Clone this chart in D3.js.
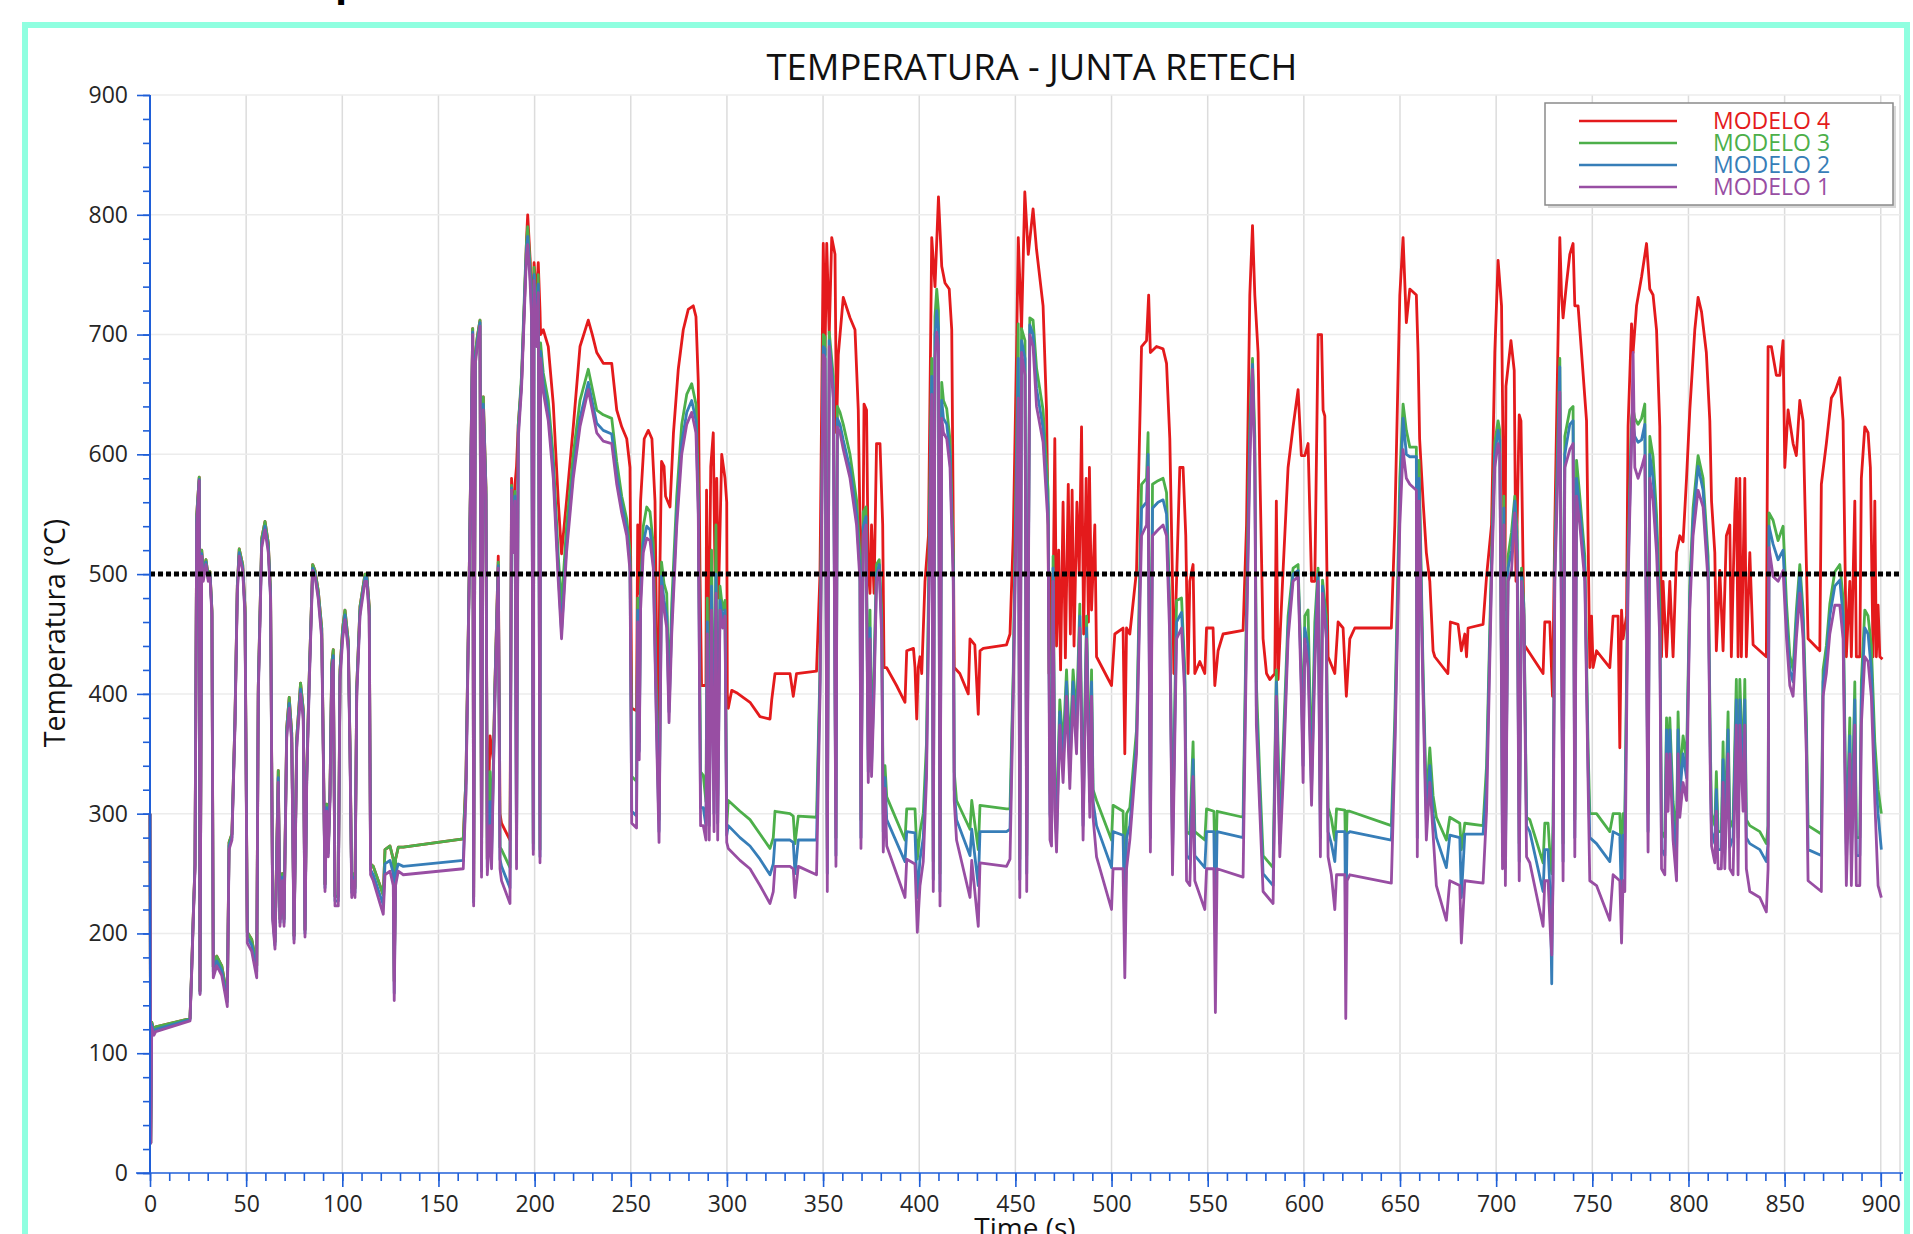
<!DOCTYPE html>
<html><head><meta charset="utf-8">
<script src="https://cdn.jsdelivr.net/npm/d3@7/dist/d3.min.js"></script>
<style>
html,body{margin:0;padding:0;background:#fff;overflow:hidden}
svg{display:block;font-family:"Open Sans","Noto Sans",sans-serif}
</style></head><body>
<svg id="chart" width="1913" height="1234"></svg>
<script>
const chartTitle = "TEMPERATURA - JUNTA RETECH";
const xTitle = "Time (s)";
const yTitle = "Temperatura (°C)";
const topFragment = "p";
const xTickLabels = [0,50,100,150,200,250,300,350,400,450,500,550,600,650,700,750,800,850,900];
const yTickLabels = [0,100,200,300,400,500,600,700,800,900];
const threshold = 500;
const seriesNames = ["MODELO 4","MODELO 3","MODELO 2","MODELO 1"];
const seriesColors = ["#e41a1c","#4daf4a","#377eb8","#984ea3"];

const modelo1 = [[0,300],[0.4,25],[0.9,122],[2,115],[3,118],[20.8,127],[21.7,168],[22.5,211],[23.4,254],[24.3,541],[25.6,578],[26,149],[26.9,515],[27.7,494],[29.1,508],[30.3,494],[31.2,498],[32.2,465],[32.9,163],[34.7,173],[37.3,165],[40.2,139],[41.1,270],[42.6,278],[44.2,374],[45.4,484],[46.4,515],[48.2,503],[49.4,465],[50.6,192],[52.9,185],[55.5,163],[56.3,398],[58.1,522],[59.8,537],[61.5,518],[62.7,479],[63.8,211],[65,187],[66.7,326],[67.6,206],[68.8,244],[69.7,206],[71.1,364],[72.4,388],[73.7,359],[74.9,192],[76.3,355],[78.3,400],[79.7,379],[80.6,197],[81.5,326],[82.8,407],[84.6,503],[85.8,498],[87.5,479],[89.3,446],[90.1,350],[91,235],[91.9,302],[92.7,264],[93.6,311],[94.5,417],[95.3,428],[96.2,223],[97.9,223],[98.8,412],[100.2,446],[101.4,462],[103.1,436],[104,350],[104.9,230],[106.1,244],[106.6,230],[107.5,398],[109.2,465],[111.8,494],[112.7,494],[114,465],[114.7,249],[116.1,244],[119.6,225],[121.3,216],[122.2,249],[124.8,252],[126.5,240],[127,144],[127.7,240],[129.1,252],[131.7,249],[162.9,254],[164.3,316],[166,494],[167.8,700],[168.3,223],[169.2,676],[170.2,690],[171.6,707],[172.4,247],[173.3,637],[174.7,561],[175.4,249],[176.8,290],[177.6,254],[179.4,398],[181.1,505],[182,254],[182.8,244],[187.2,225],[188,570],[188.9,518],[189.8,561],[190.6,254],[191.5,613],[193.2,655],[195,733],[195.8,767],[196.4,775],[197.6,745],[198.4,715],[199.3,266],[199.7,745],[201,690],[201.9,735],[202.8,259],[203.1,680],[204.5,652],[207.1,628],[209.7,580],[212.3,494],[214,446],[216.6,518],[220.1,580],[223.6,623],[227.9,654],[232.3,618],[235.7,611],[240.1,609],[242.7,575],[245.3,551],[247.9,532],[249.6,503],[250.5,292],[253,288],[253.6,460],[254.4,345],[255.1,470],[256.5,518],[258.3,530],[260,528],[261.7,505],[263.5,360],[264.7,276],[266,490],[267.3,470],[268.7,455],[269.9,376],[271.3,450],[273.9,540],[276.5,600],[279.1,625],[281.7,635],[283.9,618],[285.1,550],[286.3,290],[287.7,290],[289.1,278],[289.8,450],[290.8,278],[292,470],[293.3,285],[294.3,484],[295.2,278],[296.4,470],[297.8,455],[299,465],[299.9,276],[300.7,271],[306.8,261],[312,254],[317.2,240],[322.4,225],[324.1,235],[325,256],[332.8,256],[334.5,254],[335.4,230],[337.1,256],[346.6,249],[348.4,398],[350.1,683],[351,680],[352.2,235],[353.2,690],[355.3,647],[356.7,256],[357.4,623],[358.8,618],[360.5,604],[364,580],[367.4,541],[369.2,494],[369.7,271],[370.9,532],[372.3,541],[373.5,326],[374.4,446],[375.2,331],[376.5,398],[377.8,494],[379.2,503],[380.5,446],[381.3,268],[382.2,321],[383.1,273],[392.6,230],[393.5,262],[397.8,258],[399,201],[400.4,240],[402.1,260],[403.8,330],[405.6,541],[406.5,650],[407.3,235],[408.2,680],[409.1,702],[410,690],[410.8,223],[411.7,630],[412.6,618],[414.3,613],[416,589],[417.7,494],[418.2,311],[419.4,278],[426.4,230],[427.3,261],[430.7,206],[431.6,259],[445.4,256],[447.2,262],[448.9,398],[451.5,647],[452.3,230],[453.2,685],[455,666],[455.9,235],[457.5,700],[459.2,690],[461,640],[464.4,610],[467,541],[468,278],[468.8,273],[469.6,494],[470.5,302],[471.4,268],[473.1,374],[474.8,326],[476.6,398],[478.3,321],[480,398],[481.8,350],[483.5,455],[485.2,278],[487,446],[488.7,297],[489.6,398],[490.4,297],[492.2,264],[500,220],[500.8,254],[506,254],[506.9,163],[507.8,254],[509.5,278],[513,350],[515.6,532],[518.2,541],[519,589],[520.2,268],[521.3,532],[524.2,537],[526.8,541],[528.6,532],[530.3,446],[531.7,249],[533.8,446],[536.4,455],[538.1,398],[539,244],[540.7,240],[542.4,331],[543.3,244],[548.5,220],[549.4,254],[553.2,254],[554,134],[554.9,254],[568.4,247],[570.2,446],[571.9,589],[573.3,671],[574.5,589],[575.3,374],[577.1,302],[578.8,235],[581.4,230],[584,225],[585.7,398],[587.5,264],[589.2,326],[591.8,446],[594.4,494],[597,498],[598.7,398],[599.6,326],[600.5,446],[602.2,422],[604,307],[605.7,422],[607.4,494],[608.6,264],[609.7,484],[611.7,446],[612.6,264],[614.3,249],[616.1,220],[617,249],[621.3,249],[621.8,129],[622.5,244],[623.9,249],[645.5,242],[647.3,350],[649.9,541],[651.6,604],[653.3,580],[655.1,575],[658.5,570],[659,264],[659.9,561],[662,398],[663.7,278],[665.5,326],[667.2,283],[668.9,240],[674.1,211],[675.9,244],[681.1,240],[681.9,192],[683.7,244],[693.2,242],[695,302],[697.6,494],[699.3,589],[701,609],[701.9,600],[702.8,398],[703.3,254],[704,541],[704.8,240],[706.2,494],[708,503],[709.7,551],[710.9,513],[712,244],[713.2,494],[714.4,465],[715.8,264],[717.5,259],[724.4,206],[725.3,244],[727,244],[728.2,201],[728.9,182],[729.6,244],[730.5,494],[732.2,589],[733.1,652],[734.8,244],[735.7,589],[738.3,604],[740,609],[740.9,264],[741.8,565],[743.5,541],[746.1,494],[747.8,326],[748.7,244],[752.2,240],[759.1,211],[760.8,249],[764.3,244],[765.2,192],[766,244],[766.9,235],[768.6,494],[770.4,609],[771.2,685],[772.1,589],[773.8,580],[775.6,589],[777.3,599],[779,268],[779.9,580],[781.6,561],[783.4,518],[785.1,446],[786,254],[787.7,249],[788.6,350],[789.4,302],[790.3,350],[792,278],[793.8,244],[794.6,350],[795.5,297],[797.2,326],[799,311],[800.7,470],[802.4,532],[805,570],[807.6,556],[810.2,494],[811.4,326],[812,273],[813.7,259],[814.5,302],[815.4,254],[817.1,254],[818,326],[818.9,254],[820.6,350],[821.5,254],[823.2,249],[824.9,374],[825.8,249],[826.7,374],[828.4,302],[829.3,374],[830.1,254],[831.9,235],[837.1,230],[840.5,218],[841.4,254],[841.9,522],[844,498],[846.6,494],[849.2,503],[851,446],[852.7,407],[854.4,398],[856.1,446],[857.9,484],[859.6,446],[861.3,350],[862.2,244],[869.1,235],[870,398],[871.7,417],[873.5,450],[876.1,474],[878.7,474],[880.4,446],[882.1,240],[883.9,350],[884.7,240],[886.5,374],[887.3,240],[889.1,240],[889.9,374],[891.7,431],[893.4,427],[895.1,398],[896.9,311],[898.6,240],[900.3,230]];

const modelo2 = [[0,300],[0.4,25],[0.9,124],[2,117],[3,120],[20.8,128],[21.7,170],[22.5,213],[23.4,256],[24.3,545],[25.6,579],[26,150],[26.9,517],[27.7,497],[29.1,510],[30.3,496],[31.2,500],[32.2,468],[32.9,168],[34.7,177],[37.3,169],[40.2,143],[41.1,273],[42.6,280],[44.2,377],[45.4,487],[46.4,518],[48.2,505],[49.4,468],[50.6,197],[52.9,190],[55.5,168],[56.3,402],[58.1,526],[59.8,540],[61.5,522],[62.7,482],[63.8,214],[65,190],[66.7,330],[67.6,209],[68.8,247],[69.7,209],[71.1,368],[72.4,392],[73.7,363],[74.9,195],[76.3,359],[78.3,404],[79.7,383],[80.6,200],[81.5,330],[82.8,411],[84.6,505],[85.8,500],[87.5,482],[89.3,450],[90.1,354],[91,238],[91.9,305],[92.7,267],[93.6,315],[94.5,421],[95.3,432],[96.2,227],[97.9,227],[98.8,416],[100.2,450],[101.4,466],[103.1,440],[104,354],[104.9,234],[106.1,247],[106.6,234],[107.5,402],[109.2,469],[111.8,497],[112.7,497],[114,469],[114.7,253],[116.1,249],[119.6,232],[121.3,224],[122.2,258],[124.8,261],[126.5,250],[127,150],[127.7,250],[129.1,258],[131.7,256],[162.9,261],[164.3,322],[166,498],[167.8,702],[168.3,226],[169.2,680],[170.2,694],[171.6,710],[172.4,252],[173.3,642],[174.7,566],[175.4,255],[176.8,310],[177.6,262],[179.4,404],[181.1,507],[182,262],[182.8,256],[187.2,238],[188,572],[188.9,522],[189.8,565],[190.6,262],[191.5,618],[193.2,660],[195,740],[195.8,772],[196.4,782],[197.6,752],[198.4,722],[199.3,270],[199.7,750],[201,697],[201.9,742],[202.8,264],[203.1,686],[204.5,660],[207.1,635],[209.7,588],[212.3,503],[214,452],[216.6,525],[220.1,586],[223.6,630],[227.9,660],[232.3,626],[235.7,620],[240.1,617],[242.7,583],[245.3,558],[247.9,538],[249.6,510],[250.5,302],[253,298],[253.6,470],[254.4,352],[255.1,480],[256.5,526],[258.3,540],[260,537],[261.7,512],[263.5,370],[264.7,285],[266,498],[267.3,478],[268.7,465],[269.9,385],[271.3,460],[273.9,550],[276.5,610],[279.1,635],[281.7,645],[283.9,628],[285.1,560],[286.3,305],[287.7,305],[289.1,290],[289.8,460],[290.8,290],[292,490],[293.3,300],[294.3,500],[295.2,292],[296.4,478],[297.8,462],[299,470],[299.9,282],[300.7,290],[306.8,280],[312,273],[317.2,262],[322.4,249],[324.1,258],[325,278],[332.8,278],[334.5,276],[335.4,250],[337.1,278],[346.6,278],[348.4,410],[350.1,690],[351,688],[352.2,250],[353.2,695],[355.3,655],[356.7,265],[357.4,630],[358.8,625],[360.5,612],[364,588],[367.4,550],[369.2,502],[369.7,280],[370.9,540],[372.3,548],[373.5,335],[374.4,455],[375.2,340],[376.5,410],[377.8,500],[379.2,508],[380.5,455],[381.3,285],[382.2,330],[383.1,295],[392.6,260],[393.5,285],[397.8,284],[399,230],[400.4,262],[402.1,280],[403.8,345],[405.6,560],[406.5,665],[407.3,245],[408.2,700],[409.1,720],[410,705],[410.8,235],[411.7,645],[412.6,630],[414.3,625],[416,600],[417.7,505],[418.2,320],[419.4,295],[426.4,265],[427.3,287],[430.7,240],[431.6,285],[445.4,285],[447.2,287],[448.9,410],[451.5,680],[452.3,245],[453.2,695],[455,680],[455.9,250],[457.5,708],[459.2,700],[461,655],[464.4,622],[467,555],[468,300],[468.8,285],[469.6,505],[470.5,315],[471.4,280],[473.1,385],[474.8,340],[476.6,410],[478.3,335],[480,410],[481.8,365],[483.5,465],[485.2,290],[487,455],[488.7,310],[489.6,410],[490.4,310],[492.2,290],[500,255],[500.8,285],[506,282],[506.9,200],[507.8,280],[509.5,290],[513,360],[515.6,555],[518.2,560],[519,600],[520.2,280],[521.3,555],[524.2,560],[526.8,562],[528.6,550],[530.3,460],[531.7,265],[533.8,460],[536.4,468],[538.1,410],[539,265],[540.7,262],[542.4,345],[543.3,265],[548.5,255],[549.4,285],[553.2,285],[554,200],[554.9,285],[568.4,280],[570.2,460],[571.9,610],[573.3,675],[574.5,600],[575.3,390],[577.1,315],[578.8,250],[581.4,245],[584,240],[585.7,410],[587.5,275],[589.2,340],[591.8,455],[594.4,500],[597,503],[598.7,410],[599.6,340],[600.5,455],[602.2,440],[604,320],[605.7,440],[607.4,500],[608.6,280],[609.7,490],[611.7,455],[612.6,285],[614.3,275],[616.1,260],[617,285],[621.3,285],[621.8,200],[622.5,283],[623.9,285],[645.5,278],[647.3,365],[649.9,560],[651.6,630],[653.3,600],[655.1,598],[658.5,598],[659,280],[659.9,580],[662,410],[663.7,295],[665.5,340],[667.2,300],[668.9,280],[674.1,255],[675.9,282],[681.1,280],[681.9,230],[683.7,283],[693.2,283],[695,325],[697.6,505],[699.3,600],[701,620],[701.9,612],[702.8,410],[703.3,265],[704,555],[704.8,255],[706.2,505],[708,520],[709.7,561],[710.9,525],[712,260],[713.2,500],[714.4,470],[715.8,290],[717.5,285],[724.4,235],[725.3,270],[727,270],[728.2,230],[728.9,158],[729.6,270],[730.5,505],[732.2,610],[733.1,673],[734.8,260],[735.7,600],[738.3,625],[740,628],[740.9,280],[741.8,580],[743.5,555],[746.1,505],[747.8,340],[748.7,280],[752.2,275],[759.1,260],[760.8,285],[764.3,282],[765.2,225],[766,282],[766.9,278],[768.6,505],[770.4,620],[771.2,625],[772.1,615],[773.8,610],[775.6,612],[777.3,625],[779,285],[779.9,600],[781.6,580],[783.4,535],[785.1,460],[786,270],[787.7,265],[788.6,370],[789.4,320],[790.3,370],[792,295],[793.8,265],[794.6,370],[795.5,315],[797.2,350],[799,330],[800.7,480],[802.4,545],[805,590],[807.6,570],[810.2,505],[811.4,340],[812,285],[813.7,275],[814.5,320],[815.4,270],[817.1,270],[818,345],[818.9,270],[820.6,370],[821.5,272],[823.2,280],[824.9,395],[825.8,280],[826.7,395],[828.4,320],[829.3,395],[830.1,280],[831.9,275],[837.1,270],[840.5,260],[841.4,275],[841.9,540],[844,525],[846.6,512],[849.2,520],[851,460],[852.7,420],[854.4,410],[856.1,460],[857.9,500],[859.6,460],[861.3,365],[862.2,270],[869.1,265],[870,410],[871.7,430],[873.5,465],[876.1,490],[878.7,495],[880.4,465],[882.1,265],[883.9,365],[884.7,265],[886.5,395],[887.3,265],[889.1,265],[889.9,395],[891.7,455],[893.4,450],[895.1,420],[896.9,340],[898.6,300],[900.3,270]];

const modelo3 = [[0,300],[0.4,25],[0.9,126],[2,119],[3,122],[20.8,129],[21.7,172],[22.5,215],[23.4,258],[24.3,550],[25.6,581],[26,152],[26.9,520],[27.7,500],[29.1,512],[30.3,498],[31.2,502],[32.2,470],[32.9,172],[34.7,181],[37.3,173],[40.2,147],[41.1,276],[42.6,283],[44.2,380],[45.4,490],[46.4,521],[48.2,508],[49.4,472],[50.6,201],[52.9,195],[55.5,173],[56.3,406],[58.1,530],[59.8,544],[61.5,526],[62.7,486],[63.8,217],[65,193],[66.7,336],[67.6,212],[68.8,250],[69.7,212],[71.1,372],[72.4,397],[73.7,367],[74.9,198],[76.3,363],[78.3,409],[79.7,387],[80.6,203],[81.5,334],[82.8,415],[84.6,508],[85.8,503],[87.5,486],[89.3,455],[90.1,358],[91,241],[91.9,308],[92.7,270],[93.6,319],[94.5,425],[95.3,437],[96.2,231],[97.9,231],[98.8,420],[100.2,455],[101.4,470],[103.1,444],[104,358],[104.9,238],[106.1,250],[106.6,238],[107.5,406],[109.2,473],[111.8,500],[112.7,500],[114,473],[114.7,258],[116.1,256],[119.6,240],[121.3,232],[122.2,270],[124.8,273],[126.5,262],[127,160],[127.7,262],[129.1,272],[131.7,272],[162.9,279],[164.3,330],[166,502],[167.8,705],[168.3,230],[169.2,684],[170.2,698],[171.6,712],[172.4,258],[173.3,648],[174.7,572],[175.4,262],[176.8,335],[177.6,272],[179.4,410],[181.1,510],[182,272],[182.8,270],[187.2,255],[188,574],[188.9,526],[189.8,569],[190.6,272],[191.5,624],[193.2,666],[195,747],[195.8,778],[196.4,790],[197.6,760],[198.4,730],[199.3,275],[199.7,756],[201,705],[201.9,750],[202.8,270],[203.1,693],[204.5,668],[207.1,645],[209.7,598],[212.3,515],[214,474],[216.6,540],[220.1,600],[223.6,645],[227.9,671],[232.3,637],[235.7,633],[240.1,630],[242.7,594],[245.3,565],[247.9,546],[249.6,520],[250.5,331],[253,327],[253.6,480],[254.4,360],[255.1,490],[256.5,540],[258.3,556],[260,552],[261.7,525],[263.5,385],[264.7,295],[266,510],[267.3,492],[268.7,484],[269.9,400],[271.3,475],[273.9,565],[276.5,625],[279.1,650],[281.7,659],[283.9,642],[285.1,575],[286.3,335],[287.7,332],[289.1,310],[289.8,480],[290.8,312],[292,520],[293.3,320],[294.3,541],[295.2,315],[296.4,490],[297.8,470],[299,478],[299.9,290],[300.7,311],[306.8,302],[312,295],[317.2,283],[322.4,271],[324.1,280],[325,302],[332.8,300],[334.5,298],[335.4,275],[337.1,298],[346.6,297],[348.4,420],[350.1,700],[351,698],[352.2,270],[353.2,702],[355.3,665],[356.7,280],[357.4,640],[358.8,635],[360.5,625],[364,600],[367.4,562],[369.2,515],[369.7,295],[370.9,552],[372.3,556],[373.5,345],[374.4,470],[375.2,352],[376.5,425],[377.8,508],[379.2,512],[380.5,465],[381.3,300],[382.2,340],[383.1,314],[392.6,278],[393.5,304],[397.8,304],[399,262],[400.4,285],[402.1,300],[403.8,360],[405.6,580],[406.5,680],[407.3,260],[408.2,715],[409.1,738],[410,720],[410.8,250],[411.7,660],[412.6,645],[414.3,638],[416,612],[417.7,515],[418.2,335],[419.4,311],[426.4,287],[427.3,311],[430.7,270],[431.6,307],[445.4,304],[447.2,304],[448.9,420],[451.5,709],[452.3,262],[453.2,705],[455,695],[455.9,265],[457.5,714],[459.2,712],[461,672],[464.4,637],[467,570],[468,320],[468.8,300],[469.6,515],[470.5,330],[471.4,295],[473.1,395],[474.8,355],[476.6,420],[478.3,350],[480,420],[481.8,380],[483.5,475],[485.2,305],[487,465],[488.7,325],[489.6,420],[490.4,320],[492.2,311],[500,278],[500.8,307],[506,302],[506.9,240],[507.8,300],[509.5,305],[513,370],[515.6,575],[518.2,580],[519,618],[520.2,295],[521.3,575],[524.2,578],[526.8,580],[528.6,568],[530.3,470],[531.7,280],[533.8,478],[536.4,480],[538.1,420],[539,285],[540.7,283],[542.4,360],[543.3,285],[548.5,278],[549.4,304],[553.2,302],[554,250],[554.9,302],[568.4,297],[570.2,475],[571.9,625],[573.3,680],[574.5,615],[575.3,410],[577.1,330],[578.8,265],[581.4,260],[584,255],[585.7,420],[587.5,290],[589.2,355],[591.8,465],[594.4,505],[597,508],[598.7,420],[599.6,355],[600.5,465],[602.2,470],[604,335],[605.7,460],[607.4,505],[608.6,300],[609.7,495],[611.7,465],[612.6,305],[614.3,296],[616.1,278],[617,304],[621.3,303],[621.8,260],[622.5,302],[623.9,302],[645.5,290],[647.3,380],[649.9,580],[651.6,642],[653.3,620],[655.1,606],[658.5,606],[659,300],[659.9,595],[662,420],[663.7,310],[665.5,355],[667.2,315],[668.9,297],[674.1,278],[675.9,297],[681.1,292],[681.9,270],[683.7,292],[693.2,290],[695,340],[697.6,515],[699.3,610],[701,628],[701.9,620],[702.8,420],[703.3,280],[704,565],[704.8,270],[706.2,515],[708,535],[709.7,565],[710.9,535],[712,275],[713.2,505],[714.4,475],[715.8,297],[717.5,295],[724.4,259],[725.3,292],[727,292],[728.2,260],[728.9,250],[729.6,292],[730.5,515],[732.2,625],[733.1,680],[734.8,275],[735.7,615],[738.3,637],[740,640],[740.9,295],[741.8,595],[743.5,565],[746.1,515],[747.8,355],[748.7,300],[752.2,300],[759.1,285],[760.8,300],[764.3,300],[765.2,260],[766,300],[766.9,297],[768.6,515],[770.4,630],[771.2,638],[772.1,630],[773.8,625],[775.6,630],[777.3,642],[779,300],[779.9,615],[781.6,598],[783.4,550],[785.1,475],[786,285],[787.7,280],[788.6,380],[789.4,335],[790.3,380],[792,310],[793.8,280],[794.6,385],[795.5,330],[797.2,365],[799,345],[800.7,490],[802.4,555],[805,599],[807.6,580],[810.2,515],[811.4,355],[812,300],[813.7,290],[814.5,335],[815.4,285],[817.1,285],[818,360],[818.9,285],[820.6,385],[821.5,288],[823.2,295],[824.9,412],[825.8,295],[826.7,412],[828.4,335],[829.3,412],[830.1,295],[831.9,290],[837.1,285],[840.5,275],[841.4,290],[841.9,551],[844,545],[846.6,528],[849.2,540],[851,475],[852.7,432],[854.4,420],[856.1,470],[857.9,508],[859.6,470],[861.3,380],[862.2,290],[869.1,283],[870,420],[871.7,440],[873.5,475],[876.1,502],[878.7,508],[880.4,480],[882.1,275],[883.9,380],[884.7,275],[886.5,410],[887.3,280],[889.1,280],[889.9,410],[891.7,470],[893.4,465],[895.1,440],[896.9,360],[898.6,320],[900.3,300]];

const modelo4 = [[0,300],[0.4,25],[0.9,126],[2,119],[3,122],[20.8,129],[21.7,172],[22.5,215],[23.4,258],[24.3,550],[25.6,581],[26,152],[26.9,520],[27.7,500],[29.1,512],[30.3,498],[31.2,502],[32.2,470],[32.9,172],[34.7,181],[37.3,173],[40.2,147],[41.1,276],[42.6,283],[44.2,380],[45.4,490],[46.4,521],[48.2,508],[49.4,472],[50.6,201],[52.9,195],[55.5,173],[56.3,406],[58.1,530],[59.8,544],[61.5,526],[62.7,486],[63.8,217],[65,193],[66.7,336],[67.6,212],[68.8,250],[69.7,212],[71.1,372],[72.4,397],[73.7,367],[74.9,198],[76.3,363],[78.3,409],[79.7,387],[80.6,203],[81.5,334],[82.8,415],[84.6,508],[85.8,503],[87.5,486],[89.3,455],[90.1,358],[91,241],[91.9,308],[92.7,270],[93.6,319],[94.5,425],[95.3,437],[96.2,231],[97.9,231],[98.8,420],[100.2,455],[101.4,470],[103.1,444],[104,358],[104.9,238],[106.1,250],[106.6,238],[107.5,406],[109.2,473],[111.8,500],[112.7,500],[114,473],[114.7,258],[116.1,256],[119.6,240],[121.3,232],[122.2,270],[124.8,273],[126.5,262],[127,160],[127.7,262],[129.1,272],[131.7,272],[162.9,279],[164.3,330],[166,502],[167.8,705],[168.3,230],[169.2,684],[170.2,698],[171.6,712],[172.4,258],[173.3,648],[174.7,572],[175.4,262],[176.8,365],[178.5,345],[179.4,410],[181.1,515],[182,300],[182.8,292],[187.2,278],[188,580],[188.9,530],[189.8,575],[190.6,590],[191.5,625],[193.2,660],[195,740],[195.8,780],[196.4,800],[197.6,765],[198.4,735],[199.3,730],[199.7,760],[201,730],[201.9,760],[202.8,720],[203.1,700],[204.5,704],[207.1,690],[209.7,642],[212.3,561],[214,517],[216.6,561],[220.1,623],[223.6,690],[227.9,712],[230,700],[232.3,685],[235.7,676],[240.1,676],[242.7,637],[245.3,623],[247.9,613],[249.6,589],[250.5,388],[253,386],[253.6,541],[254.4,484],[255.1,561],[257,613],[259.1,620],[261,613],[262.6,561],[263.5,436],[264.3,369],[265.1,500],[266,594],[267.3,590],[268.1,565],[270.4,556],[272.2,618],[274.7,671],[277.3,704],[279.9,721],[282.5,724],[283.9,715],[285.1,661],[286,500],[286.8,407],[289.1,407],[289.4,570],[290.3,407],[291.6,590],[292.9,618],[293.8,500],[294.7,580],[295.6,480],[297.3,600],[299,580],[299.9,560],[300.2,400],[300.7,388],[302.5,403],[305,401],[312,393],[317.2,381],[322.4,379],[323.3,395],[325,417],[332.8,417],[334.5,398],[336.2,417],[346.6,419],[348.4,500],[350.1,776],[351,683],[351.9,776],[353.2,700],[354.5,781],[356.2,767],[357,618],[357.9,683],[360.5,731],[364,714],[366.6,704],[368.3,637],[369.2,541],[370.6,494],[371.3,642],[372.6,637],[373.5,503],[374.4,484],[375.2,541],[376.5,484],[377.8,609],[379.6,609],[381,541],[381.7,422],[383,422],[388.2,407],[392.6,393],[393.5,436],[397,438],[397.8,422],[398.7,379],[399.5,422],[400.4,431],[401.3,417],[403,494],[404.8,532],[406.5,781],[408.2,740],[410,815],[411.7,757],[413.4,743],[415.6,738],[416.9,704],[417.7,541],[418.2,422],[421.1,417],[425.5,400],[426.4,446],[428.9,441],[430.7,383],[431.6,436],[433.3,438],[445.4,441],[447.2,450],[448.9,532],[450.6,685],[451.5,781],[453.2,704],[454.9,819],[456.7,767],[459.2,805],[461,771],[464.4,724],[466.2,637],[467,541],[467.5,417],[468.5,500],[469.3,430],[470.5,613],[471.4,440],[472.5,520],[473.5,420],[474.8,560],[476,430],[477.5,575],[478.6,450],[479.5,570],[480.5,440],[482,560],[483.2,500],[484.4,623],[485.5,450],[486.8,580],[488,460],[488.5,589],[489.6,470],[491.3,541],[492.2,431],[500,407],[501.7,450],[506,455],[506.9,350],[507.8,455],[509.5,450],[513,503],[515.6,690],[518.2,695],[519.3,733],[520.2,685],[523.4,690],[526.8,688],[528.6,676],[530.3,613],[531.7,494],[532.4,417],[533.8,494],[535.5,589],[537.2,589],[538.6,532],[539.8,417],[540.7,494],[542.4,508],[543.3,417],[545.9,427],[548.5,417],[549.4,455],[552.8,455],[553.7,407],[555.4,436],[558,450],[568.4,453],[570.2,541],[571.9,733],[573.3,791],[574.5,733],[576.2,685],[577.1,589],[578.8,446],[580.6,417],[582.3,412],[584.9,417],[585.7,561],[586.6,412],[589.2,503],[591.8,589],[594.4,623],[597,654],[598.7,599],[600.5,599],[602.2,609],[604,494],[605.7,494],[607.4,700],[609.2,700],[610,637],[610.9,632],[612.6,431],[616.1,417],[617.8,460],[620.4,455],[622.1,398],[623.9,446],[626.5,455],[645.5,455],[647.3,541],[649.9,733],[651.6,781],[653.3,710],[655.1,738],[658.5,733],[659.4,685],[660.2,613],[662,561],[663.7,518],[665.5,494],[667.2,436],[668.1,431],[674.9,417],[676.2,460],[680.2,458],[681.9,436],[683.7,450],[684.6,431],[685.4,455],[693.2,458],[695,498],[697.6,541],[699.3,685],[701,762],[702.8,724],[703.6,600],[704.5,470],[705.1,657],[707.7,695],[709.4,670],[710.3,494],[712,633],[712.9,628],[714.6,441],[724.4,417],[725.3,460],[727.9,460],[729.3,398],[730.5,541],[733.1,781],[734,733],[734.8,714],[736.6,743],[738.3,767],[740,776],[740.9,724],[742.6,724],[744.4,685],[747,628],[748.7,422],[749.6,465],[750.4,422],[752.2,436],[759.1,422],[760.8,465],[763.4,465],[764.3,355],[765.2,470],[766,446],[767.8,465],[768.6,623],[770.4,709],[771.2,685],[773,724],[775.6,748],[778.2,776],[779.9,738],[781.6,733],[783.4,704],[785.1,623],[786,431],[786.8,494],[788.6,431],[790.3,494],[792,431],[793.8,518],[795.5,532],[797.2,527],[799,580],[800.7,637],[803.3,704],[805,731],[806.8,719],[809.3,685],[811.1,628],[812,561],[813.7,518],[814.5,436],[816.3,503],[818,436],[819.7,532],[821.5,541],[822.3,431],[824.1,551],[824.9,580],[825.8,431],[826.7,580],[827.5,431],[829.3,580],[830.1,431],[831.9,518],[833.6,441],[840.5,431],[841.4,690],[843.1,690],[845.7,666],[847.5,666],[849.2,695],[850.1,589],[851.8,637],[854.4,609],[856.1,599],[857.9,645],[859.6,628],[862.2,446],[868.3,436],[869.1,575],[871.7,609],[874.3,647],[876.1,652],[878.7,664],[880.4,628],[882.1,431],[883.9,494],[884.7,431],[886.5,561],[887.3,431],[889.1,431],[889.9,580],[891.7,623],[893.4,618],[894.6,589],[896,431],[896.9,561],[897.7,431],[898.6,474],[899.5,431],[900.9,429]];

const seriesData = [modelo4, modelo3, modelo2, modelo1];

// ---------- drawing ----------
const svg = d3.select("#chart");
const axisColor = "#1f5fd8";
const x = d3.scaleLinear().domain([0, 910]).range([150, 1900]);
const y = d3.scaleLinear().domain([0, 900]).range([1173, 95]);

svg.append("rect").attr("width",1913).attr("height",1234).attr("fill","#fff");

// fragment of text above the frame (cut by the top edge)
svg.append("text").attr("x",335).attr("y",-4).attr("font-size",40).attr("font-weight","bold")
  .attr("fill","#000").text(topFragment);

// outer frame
svg.append("rect").attr("x",25).attr("y",25).attr("width",1882).attr("height",1300)
  .attr("fill","none").attr("stroke","#8fffe0").attr("stroke-width",6);

// grid
const grid = svg.append("g");
grid.selectAll(".vg").data(xTickLabels.filter(d=>d>0).concat([910])).enter().append("line")
  .attr("x1",d=>x(d)).attr("x2",d=>x(d)).attr("y1",y(900)).attr("y2",y(0))
  .attr("stroke","#dcdcdc").attr("stroke-width",1.5);
grid.selectAll(".hg").data(yTickLabels.filter(d=>d>0)).enter().append("line")
  .attr("x1",x(0)).attr("x2",x(910)).attr("y1",d=>y(d)).attr("y2",d=>y(d))
  .attr("stroke","#ececec").attr("stroke-width",1.5);

// series
const line = d3.line().x(d=>x(d[0])).y(d=>y(d[1]));
const plot = svg.append("g");
seriesData.forEach((s,i)=>{
  plot.append("path").datum(s).attr("d",line).attr("fill","none")
    .attr("stroke",seriesColors[i]).attr("stroke-width",2.8)
    .attr("stroke-linejoin","round");
});

// threshold line
svg.append("line").attr("x1",x(0)).attr("x2",x(910)).attr("y1",y(threshold)).attr("y2",y(threshold))
  .attr("stroke","#000").attr("stroke-width",5).attr("stroke-dasharray","5,3");

// x axis
const xMinor = d3.range(0, 911, 10);
const gx = svg.append("g").attr("transform",`translate(0,${y(0)})`);
gx.call(d3.axisBottom(x).tickValues(xMinor).tickSize(8).tickSizeOuter(0).tickFormat(""));
const gx2 = svg.append("g").attr("transform",`translate(0,${y(0)})`);
gx2.call(d3.axisBottom(x).tickValues(xTickLabels).tickSize(14).tickSizeOuter(0).tickFormat(d=>d));
[gx,gx2].forEach(g=>{
  g.select(".domain").remove();
  g.selectAll("line").attr("stroke",axisColor).attr("stroke-width",1.6);
});
gx2.selectAll("text").attr("font-size",23).attr("fill","#262626").attr("font-family","Open Sans")
  .attr("dy",null).attr("y",39);
svg.append("line").attr("x1",136).attr("x2",1903).attr("y1",y(0)).attr("y2",y(0))
  .attr("stroke",axisColor).attr("stroke-width",1.6);

// y axis
const yMinor = d3.range(0, 901, 20);
const gy = svg.append("g").attr("transform",`translate(${x(0)},0)`);
gy.call(d3.axisLeft(y).tickValues(yMinor).tickSize(7).tickSizeOuter(0).tickFormat(""));
const gy2 = svg.append("g").attr("transform",`translate(${x(0)},0)`);
gy2.call(d3.axisLeft(y).tickValues(yTickLabels).tickSize(13).tickSizeOuter(0).tickPadding(9).tickFormat(d=>d));
[gy,gy2].forEach(g=>{
  g.select(".domain").remove();
  g.selectAll("line").attr("stroke",axisColor).attr("stroke-width",1.6);
});
gy2.selectAll("text").attr("font-size",23).attr("fill","#262626").attr("font-family","Open Sans");
svg.append("line").attr("x1",x(0)).attr("x2",x(0)).attr("y1",y(900)).attr("y2",y(0))
  .attr("stroke",axisColor).attr("stroke-width",2);

// titles
svg.append("text").attr("x",1032).attr("y",80).attr("text-anchor","middle")
  .attr("font-size",36.3).attr("fill","#111").text(chartTitle);
svg.append("text").attr("x",1025).attr("y",1238).attr("text-anchor","middle")
  .attr("font-size",28).attr("fill","#111").text(xTitle);
svg.append("text").attr("transform","translate(65,633) rotate(-90)").attr("text-anchor","middle")
  .attr("font-size",28.5).attr("fill","#111").text(yTitle);

// legend
const lg = svg.append("g");
lg.append("rect").attr("x",1548).attr("y",106).attr("width",348).attr("height",102).attr("fill","#d8d8d8");
lg.append("rect").attr("x",1545).attr("y",103).attr("width",348).attr("height",102)
  .attr("fill","#fff").attr("stroke","#8a8a8a").attr("stroke-width",1.5);
const legendY = d3.scaleLinear().domain([0,3]).range([121,187]);
seriesNames.forEach((n,i)=>{
  lg.append("line").attr("x1",1579).attr("x2",1677).attr("y1",legendY(i)).attr("y2",legendY(i))
    .attr("stroke",seriesColors[i]).attr("stroke-width",2.6);
  lg.append("text").attr("x",1713).attr("y",legendY(i)+8).attr("font-size",23)
    .attr("fill",seriesColors[i]).text(n);
});
</script>
</body></html>
